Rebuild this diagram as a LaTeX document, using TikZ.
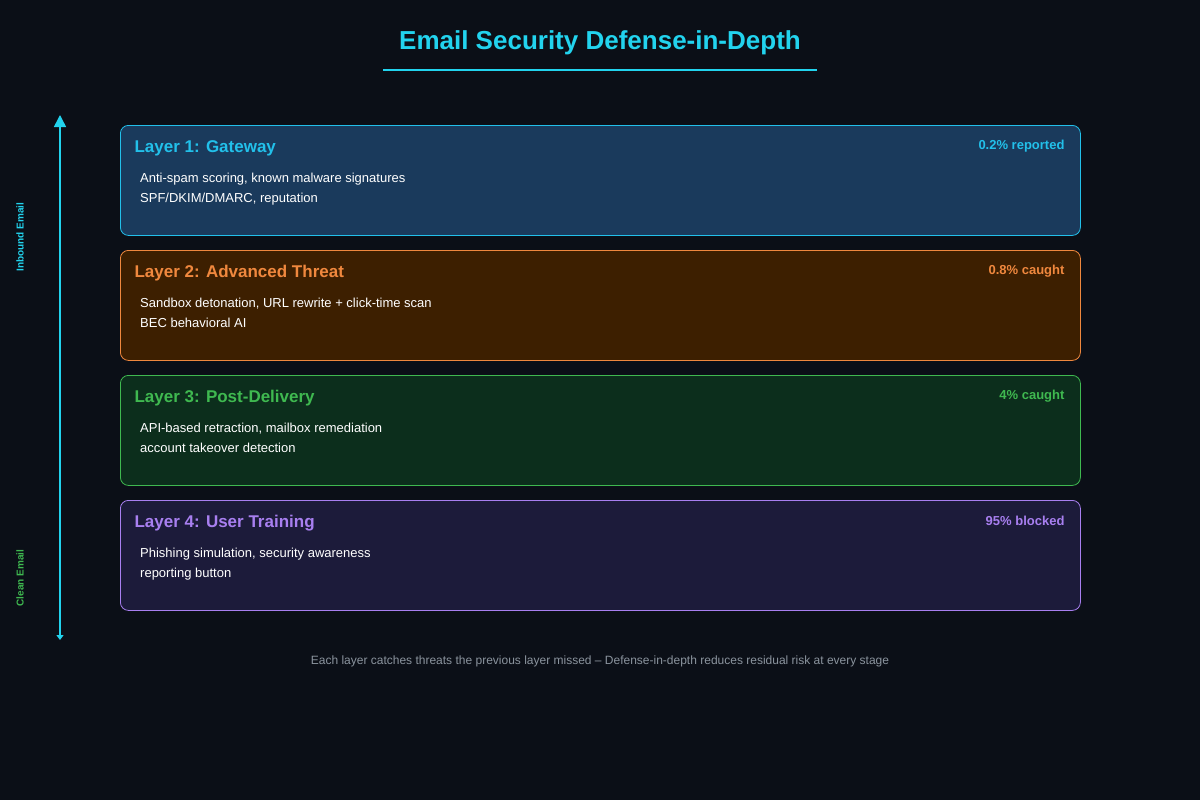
\documentclass[tikz,border=0pt]{standalone}
\usepackage{fontspec}
\setmainfont{Liberation Sans}
\usetikzlibrary{positioning, arrows.meta}
\definecolor{bgc}{HTML}{0B0F17}
\definecolor{cyanc}{HTML}{22D3EE}
\definecolor{fillA}{HTML}{1A3A5C}\definecolor{lineA}{HTML}{22C0EA}
\definecolor{fillB}{HTML}{3D1F00}\definecolor{lineB}{HTML}{F0883E}
\definecolor{fillC}{HTML}{0C2E1C}\definecolor{lineC}{HTML}{3FB950}
\definecolor{fillD}{HTML}{1C1B3A}\definecolor{lineD}{HTML}{A87FF0}
\definecolor{greyc}{HTML}{8B949E}
\begin{document}
\begin{tikzpicture}[
    x=1pt, y=-1pt,
    layer/.style={rectangle, rounded corners=8pt, line width=0.8pt, minimum width=960pt, minimum height=110pt, anchor=north west},
    ltitle/.style={anchor=west, font=\fontsize{17}{20}\selectfont\bfseries},
    lstat/.style={anchor=east, font=\fontsize{13}{15}\selectfont\bfseries},
    ldesc/.style={anchor=north west, align=left, text=white, font=\fontsize{13}{20}\selectfont, inner sep=0pt},
    side/.style={rotate=90, font=\fontsize{10}{12}\selectfont\bfseries}
]
    \fill[bgc] (0,0) rectangle (1200,800);
    \node[text=cyanc, font=\fontsize{26}{30}\selectfont\bfseries] (title) at (600,43) {Email Security Defense-in-Depth};
    \draw[cyanc, line width=1.5pt] (383,70) -- (817,70);

    % layers
    \foreach \i/\y/\c/\t/\s/\da/\db in {
        A/125/A/Layer 1: Gateway/0.2\% reported/{Anti-spam scoring, known malware signatures}/{SPF/DKIM/DMARC, reputation},
        B/250/B/Layer 2: Advanced Threat/0.8\% caught/{Sandbox detonation, URL rewrite + click-time scan}/{BEC behavioral AI},
        C/375/C/Layer 3: Post-Delivery/4\% caught/{API-based retraction, mailbox remediation}/{account takeover detection},
        D/500/D/Layer 4: User Training/95\% blocked/{Phishing simulation, security awareness}/{reporting button}} {
        \node[layer, draw=line\c, fill=fill\c] (box\i) at (120,\y) {};
        \node[ltitle, text=line\c] (name\i) at (131,\y+23) {\t};
        \node[lstat, text=line\c] (stat\i) at (1068,\y+21) {\s};
        \node[ldesc] (desc\i) at (140,\y+48) {\da\\\db};
    }

    % flow arrow
    \coordinate (top) at (60,115);
    \coordinate (bot) at (60,640);
    \draw[cyanc, line width=1.5pt, {Triangle[length=12pt,width=12pt]}-{Triangle[length=5pt,width=7pt]}] (top) -- (bot);
    \node[side, text=cyanc] (inbound) at (20,237) {Inbound Email};
    \node[side, text=lineC] (clean) at (20,578) {Clean Email};

    \node[text=greyc, font=\fontsize{12}{14}\selectfont] (note) at (600,661) {Each layer catches threats the previous layer missed -- Defense-in-depth reduces residual risk at every stage};
\end{tikzpicture}
\end{document}
